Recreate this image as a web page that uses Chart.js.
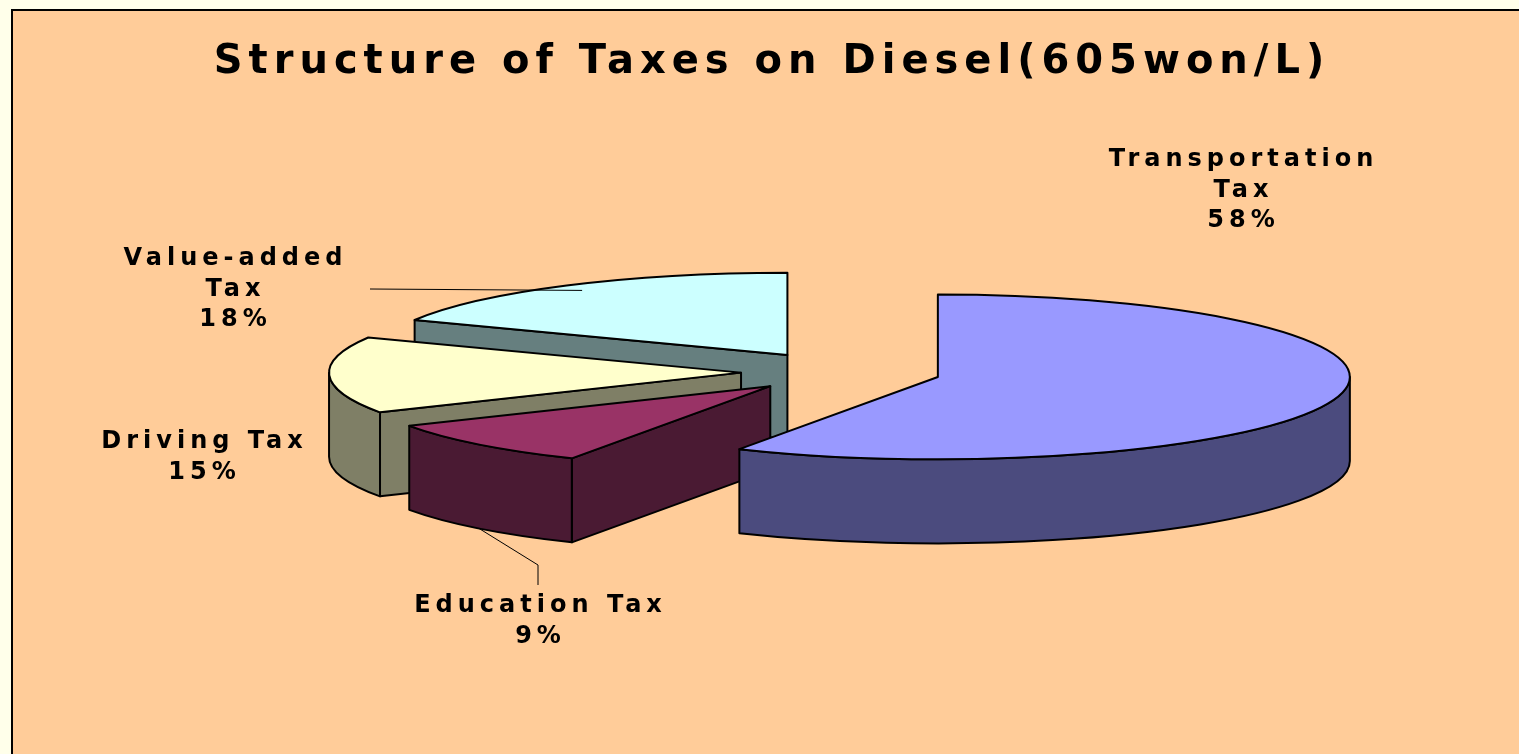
<!DOCTYPE html>
<html>
<head>
<meta charset="utf-8">
<script src="https://cdn.jsdelivr.net/npm/chart.js@4"></script>
<style>
  html, body { margin: 0; padding: 0; background: #FFFFEA; overflow: hidden; }
  #frame { position: absolute; left: 11px; top: 9px; width: 1540px; height: 780px;
           background: #FFCC99; border-left: 2px solid #000; border-top: 2px solid #000; }
  #chart { position: absolute; left: 0; top: 0; }
</style>
</head>
<body>
<div id="frame"></div>
<canvas id="chart" width="1519" height="754"></canvas>
<script>
// data
const categories = [['Transportation', 'Tax'], ['Education Tax'], ['Driving Tax'], ['Value-added', 'Tax']];
const shares = [58, 9, 15, 18];

// colours: top face / side face
const topColors = ['#9999FF', '#993366', '#FFFFCC', '#CCFFFF'];
const sideColors = ['#4B4B7E', '#4A1A33', '#7F7F66', '#667F7F'];

const FONT = '"DejaVu Sans", "Liberation Sans", sans-serif';

// squashes the pie into a tilted disc and extrudes it
const pie3d = {
  id: 'pie3d',
  beforeDraw(chart, args, opts) {
    chart.ctx.letterSpacing = opts.titleSpacing + 'px';
  },
  beforeDatasetsDraw(chart, args, opts) {
    const ctx = chart.ctx;
    const k = opts.tilt, D = opts.depth, E = opts.explode;
    const meta = chart.getDatasetMeta(0);
    const slices = meta.data.map((el, i) => {
      const p = el.getProps(['x', 'y', 'startAngle', 'endAngle', 'outerRadius'], true);
      const mid = (p.startAngle + p.endAngle) / 2;
      return {
        el, i, p, mid,
        cx: p.x + opts.shiftX, cy: p.y,
        ax: p.x + opts.shiftX + Math.cos(mid) * E,
        ay: p.y + Math.sin(mid) * E * k,
        rx: p.outerRadius, ry: p.outerRadius * k
      };
    });
    const rim = (s, a, down) => [s.ax + s.rx * Math.cos(a), s.ay + s.ry * Math.sin(a) + (down ? D : 0)];

    ctx.save();
    ctx.letterSpacing = '0px';
    ctx.lineWidth = opts.lineWidth;
    ctx.strokeStyle = '#000';
    ctx.lineJoin = 'round';

    // flat cut faces that look towards the viewer
    const faces = [];
    slices.forEach(s => {
      if (Math.cos(s.p.startAngle) < -1e-6) faces.push({ s, a: s.p.startAngle });
      if (Math.cos(s.p.endAngle) > 1e-6) faces.push({ s, a: s.p.endAngle });
    });
    faces.sort((f, g) => (rim(f.s, f.a)[1] + f.s.ay) - (rim(g.s, g.a)[1] + g.s.ay));
    faces.forEach(({ s, a }) => {
      const [px, py] = rim(s, a);
      ctx.beginPath();
      ctx.moveTo(s.ax, s.ay);
      ctx.lineTo(px, py);
      ctx.lineTo(px, py + D);
      ctx.lineTo(s.ax, s.ay + D);
      ctx.closePath();
      ctx.fillStyle = sideColors[s.i];
      ctx.fill();
      ctx.stroke();
    });

    // curved outer walls (front half only)
    slices.forEach(s => {
      const a = Math.max(s.p.startAngle, 0), b = Math.min(s.p.endAngle, Math.PI);
      if (b <= a) return;
      ctx.beginPath();
      ctx.ellipse(s.ax, s.ay, s.rx, s.ry, 0, a, b);
      ctx.lineTo(...rim(s, b, true));
      ctx.ellipse(s.ax, s.ay + D, s.rx, s.ry, 0, b, a, true);
      ctx.closePath();
      ctx.fillStyle = sideColors[s.i];
      ctx.fill();
      ctx.stroke();
    });

    // top faces: the library's own arc elements, squashed
    slices.forEach(s => {
      ctx.save();
      ctx.translate(s.ax, s.ay);
      ctx.scale(1, k);
      ctx.translate(-s.p.x, -s.p.y);
      s.el.draw(ctx);
      ctx.restore();
      ctx.beginPath();
      ctx.moveTo(s.ax, s.ay);
      ctx.ellipse(s.ax, s.ay, s.rx, s.ry, 0, s.p.startAngle, s.p.endAngle);
      ctx.closePath();
      ctx.stroke();
    });
    ctx.restore();
    chart.$slices = slices;
    return false;
  }
};

// category + percent labels with leader lines
const sliceLabels = {
  id: 'sliceLabels',
  afterDraw(chart, args, opts) {
    const slices = chart.$slices;
    if (!slices) return;
    const ctx = chart.ctx;
    const D = chart.options.plugins.pie3d.depth;
    const total = shares.reduce((a, b) => a + b, 0);
    ctx.save();
    ctx.font = `bold ${opts.size}px ${FONT}`;
    ctx.letterSpacing = opts.spacing + 'px';
    ctx.fillStyle = '#000';
    ctx.strokeStyle = '#000';
    ctx.lineWidth = 1;
    ctx.textAlign = 'center';
    ctx.textBaseline = 'middle';
    slices.forEach(s => {
      const [dx, dy] = opts.spots[s.i];
      const lx = s.cx + dx, ly = s.cy + dy;
      const lines = [].concat(categories[s.i], Math.round(shares[s.i] / total * 100) + '%');
      lines.forEach((t, j) => ctx.fillText(t, lx + opts.spacing / 2, ly + j * opts.lineHeight));
      const lead = opts.leaders[s.i];
      if (!lead) return;
      const a = s.mid;
      const sx = s.ax + s.rx * lead.f * Math.cos(a);
      const sy = s.ay + s.ry * lead.f * Math.sin(a) + (lead.bottom ? D : 0);
      ctx.beginPath();
      ctx.moveTo(sx, sy);
      lead.pts.forEach(([px, py]) => ctx.lineTo(lx + px, ly + py));
      ctx.stroke();
    });
    ctx.restore();
  }
};

new Chart(document.getElementById('chart'), {
  type: 'pie',
  data: {
    labels: categories,
    datasets: [{
      data: shares,
      backgroundColor: topColors,
      borderWidth: 0,
      radius: 412,
      clip: false
    }]
  },
  options: {
    responsive: false,
    animation: false,
    events: [],
    layout: { padding: { left: 25, right: 0, top: 0, bottom: 118 } },
    plugins: {
      legend: { display: false },
      tooltip: { enabled: false },
      title: {
        display: true,
        text: 'Structure of Taxes on Diesel(605won/L)',
        color: '#000',
        font: { family: FONT, size: 40, weight: 'bold' },
        padding: { top: 39, bottom: 21 }
      },
      pie3d: { tilt: 0.2, depth: 84, explode: 100, shiftX: 69, lineWidth: 2, titleSpacing: 6 },
      sliceLabels: {
        size: 24,
        spacing: 5,
        lineHeight: 30.5,
        spots: [[400, -212], [-303, 234], [-639, 70], [-608, -113]],
        leaders: [
          null,
          { f: 1, bottom: true, pts: [[0, -41], [0, -21]] },
          null,
          { f: 0.93, bottom: false, pts: [[137, 30]] }
        ]
      }
    }
  },
  plugins: [pie3d, sliceLabels]
});
</script>
</body>
</html>
